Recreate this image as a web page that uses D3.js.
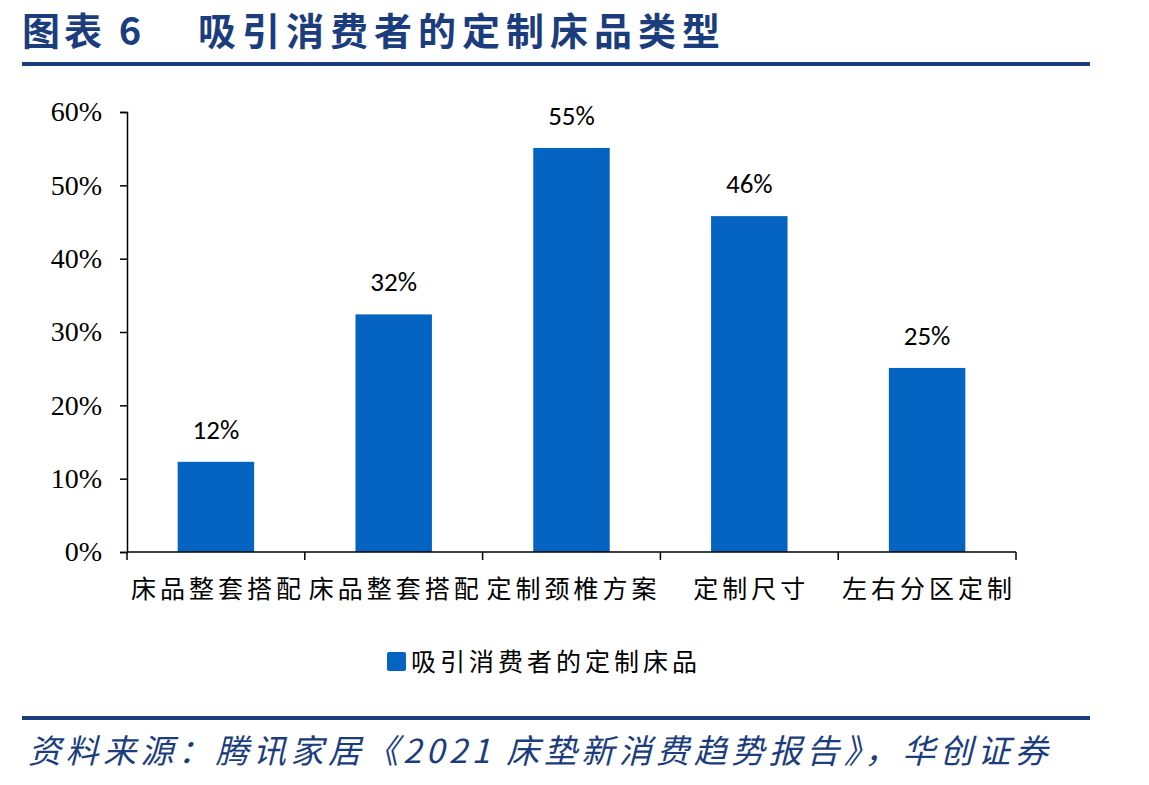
<!DOCTYPE html>
<html lang="zh">
<head>
<meta charset="UTF-8">
<title>吸引消费者的定制床品类型</title>
<script src="https://d3js.org/d3.v7.min.js"></script>
<style>
    body { margin: 0; background: #fff; }
    .cjk { font-family: "Noto Sans CJK SC", sans-serif; }
    .ytick text { font-family: "Liberation Serif", "Times New Roman", serif; font-size: 28px; fill: #000; }
</style>
</head>
<body>
<svg width="1149" height="785"></svg>
<script>
    const categories = ["床品整套搭配", "床品整套搭配", "定制颈椎方案", "定制尺寸", "左右分区定制"];
    const values = [0.123, 0.324, 0.551, 0.458, 0.251];
    const yTicks = [0, 0.1, 0.2, 0.3, 0.4, 0.5, 0.6];
    const seriesName = "吸引消费者的定制床品";

    const blue = "#0563c1";
    const navy = "#1b3d7e";

    const svg = d3.select("svg");
    const margin = {top: 112, left: 127, right: 133, bottom: 233};
    const width = 1149 - margin.left - margin.right;
    const height = 785 - margin.top - margin.bottom;

    // title + rules
    svg.append("text")
        .attr("class", "cjk")
        .attr("x", 22).attr("y", 45)
        .attr("font-size", 38).attr("font-weight", 700)
        .attr("letter-spacing", 4)
        .attr("fill", navy)
        .text("图表 6");
    svg.append("text")
        .attr("class", "cjk")
        .attr("x", 198).attr("y", 45)
        .attr("font-size", 38).attr("font-weight", 700)
        .attr("letter-spacing", 6)
        .attr("fill", navy)
        .text("吸引消费者的定制床品类型");
    svg.append("rect").attr("x", 22).attr("y", 62).attr("width", 1068).attr("height", 4).attr("fill", navy);
    svg.append("rect").attr("x", 22).attr("y", 716).attr("width", 1068).attr("height", 4).attr("fill", navy);
    svg.append("text")
        .attr("class", "cjk")
        .attr("x", 28).attr("y", 763)
        .attr("font-size", 33).attr("font-style", "italic")
        .attr("letter-spacing", 4.5)
        .attr("fill", navy)
        .text("资料来源：腾讯家居《2021 床垫新消费趋势报告》，华创证券");

    const g = svg.append("g").attr("transform", `translate(${margin.left},${margin.top})`);

    const x = d3.scaleBand()
        .domain(d3.range(categories.length))
        .range([0, width])
        .paddingInner(0.57)
        .paddingOuter(0.285);
    const xTickScale = d3.scaleLinear().domain([0, categories.length]).range([0, width]);

    const y = d3.scaleLinear().domain([0, 0.6]).range([height, 0]);

    g.selectAll(".bar")
        .data(values)
        .enter().append("rect")
        .attr("class", "bar")
        .attr("x", (d, i) => x(i))
        .attr("y", d => y(d))
        .attr("width", x.bandwidth())
        .attr("height", d => height - y(d))
        .attr("fill", blue);

    g.selectAll(".label")
        .data(values)
        .enter().append("text")
        .attr("x", (d, i) => x(i) + x.bandwidth() / 2)
        .attr("y", d => y(d) - 23)
        .attr("text-anchor", "middle")
        .attr("font-family", "Carlito, 'Liberation Sans', Arial, sans-serif")
        .attr("font-size", 27)
        .attr("fill", "#000")
        .text(d => d3.format(".0%")(d));

    // y axis
    const yAxis = g.append("g").attr("class", "ytick")
        .call(d3.axisLeft(y).tickValues(yTicks).tickFormat(d3.format(".0%")).tickSize(7).tickPadding(18));
    yAxis.selectAll("path, line").attr("stroke", "#000").attr("stroke-width", 1.5);

    // x axis: ticks at category boundaries
    const xAxis = g.append("g").attr("class", "xaxis")
        .attr("transform", `translate(0,${height})`);
    xAxis.append("line").attr("x1", 0).attr("x2", width).attr("stroke", "#000").attr("stroke-width", 1.5);
    xAxis.selectAll(".xt")
        .data(d3.range(categories.length + 1))
        .enter().append("line")
        .attr("x1", d => xTickScale(d)).attr("x2", d => xTickScale(d))
        .attr("y1", 0).attr("y2", 8)
        .attr("stroke", "#000").attr("stroke-width", 1.5);
    xAxis.selectAll(".xl")
        .data(categories)
        .enter().append("text")
        .attr("class", "cjk")
        .attr("x", (d, i) => x(i) + x.bandwidth() / 2 + 2)
        .attr("y", 46)
        .attr("text-anchor", "middle")
        .attr("font-size", 25)
        .attr("letter-spacing", 4)
        .attr("fill", "#000")
        .text(d => d);

    // legend
    const legend = svg.append("g").attr("transform", "translate(387,652)");
    legend.append("rect").attr("width", 19).attr("height", 19).attr("rx", 2).attr("fill", blue);
    legend.append("text")
        .attr("class", "cjk")
        .attr("x", 24).attr("y", 19)
        .attr("font-size", 25).attr("letter-spacing", 4)
        .attr("fill", "#000")
        .text(seriesName);
</script>
</body>
</html>
